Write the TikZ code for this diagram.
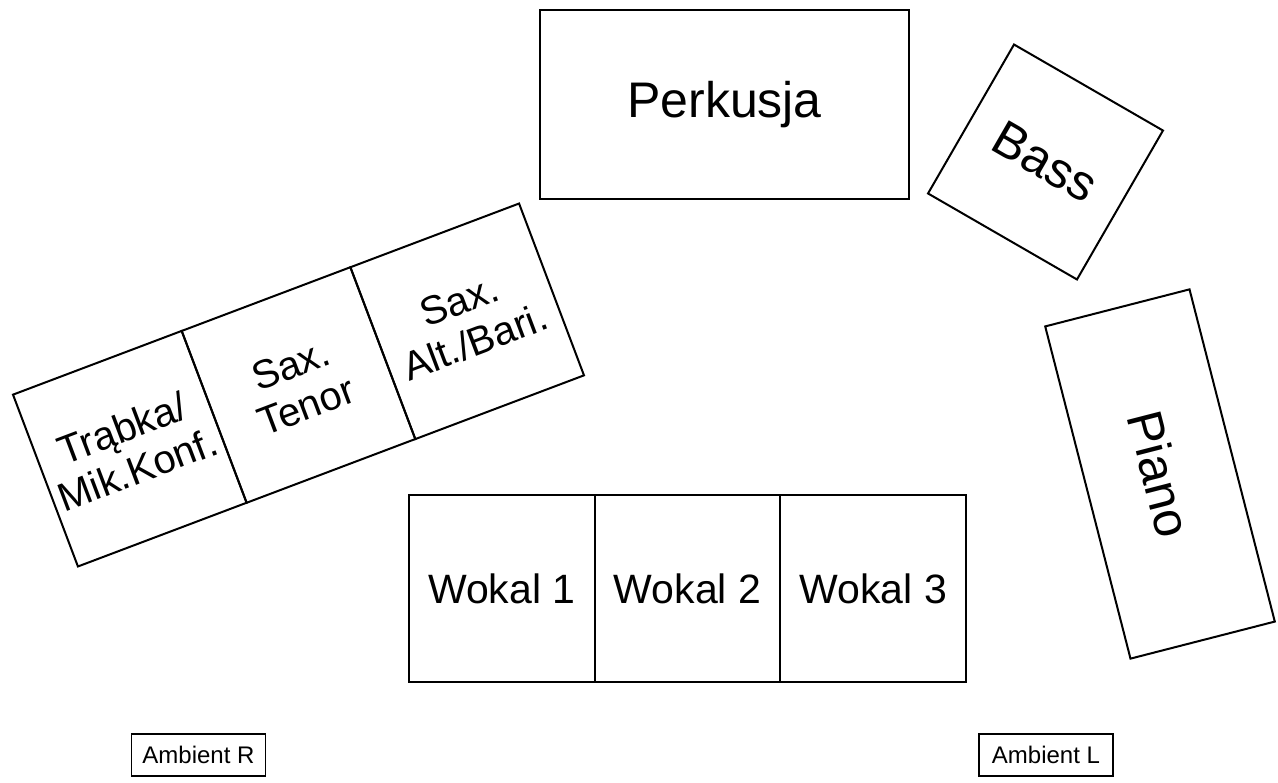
\documentclass[tikz,border=0pt]{standalone}
\usepackage{fontspec}
\setmainfont{Liberation Sans}
\begin{document}
\begin{tikzpicture}[x=1pt,y=-1pt,
  box/.style={draw=black, line width=2pt, inner sep=0pt, align=center},
  big/.style={font=\fontsize{50}{56}\selectfont},
  mid/.style={font=\fontsize{41}{46}\selectfont},
  brass/.style={font=\fontsize{40}{44}\selectfont},
  small/.style={font=\fontsize{24}{28}\selectfont}]
\useasboundingbox[fill=white] (0,0) rectangle (1278,783);
% Perkusja
\node[box, big, minimum width=369pt, minimum height=189pt] (perc) at (724.5,104.5) {Perkusja};
% Bass
\node[box, big, minimum width=172pt, minimum height=172pt, rotate=-30] (bass) at (1045.5,162) {Bass};
% Piano
\node[box, big, minimum width=343pt, minimum height=149pt, rotate=-75.6] (piano) at (1160,474) {Piano};
% Brass section
\node[box, brass, minimum width=180.3pt, minimum height=183.7pt, rotate=20.7] (tp) at (129.8,448.7) {Trąbka/\\Mik.Konf.};
\node[box, brass, minimum width=180.3pt, minimum height=183.7pt, rotate=20.7] (ts) at (298.5,385) {Sax.\\Tenor};
\node[box, brass, minimum width=180.3pt, minimum height=183.7pt, rotate=20.7] (as) at (467.2,321.3) {Sax.\\Alt./Bari.};
% Vocals
\node[box, mid, minimum width=185.7pt, minimum height=187pt] (w1) at (501.8,588.5) {Wokal 1};
\node[box, mid, minimum width=185.7pt, minimum height=187pt] (w2) at (687.5,588.5) {Wokal 2};
\node[box, mid, minimum width=185.7pt, minimum height=187pt] (w3) at (873.2,588.5) {Wokal 3};
% Ambient mics
\node[box, small, line width=1.6pt, minimum width=134pt, minimum height=42pt] (ar) at (198.5,755) {Ambient R};
\node[box, small, line width=1.6pt, minimum width=134pt, minimum height=42pt] (al) at (1046,755) {Ambient L};
\end{tikzpicture}
\end{document}
